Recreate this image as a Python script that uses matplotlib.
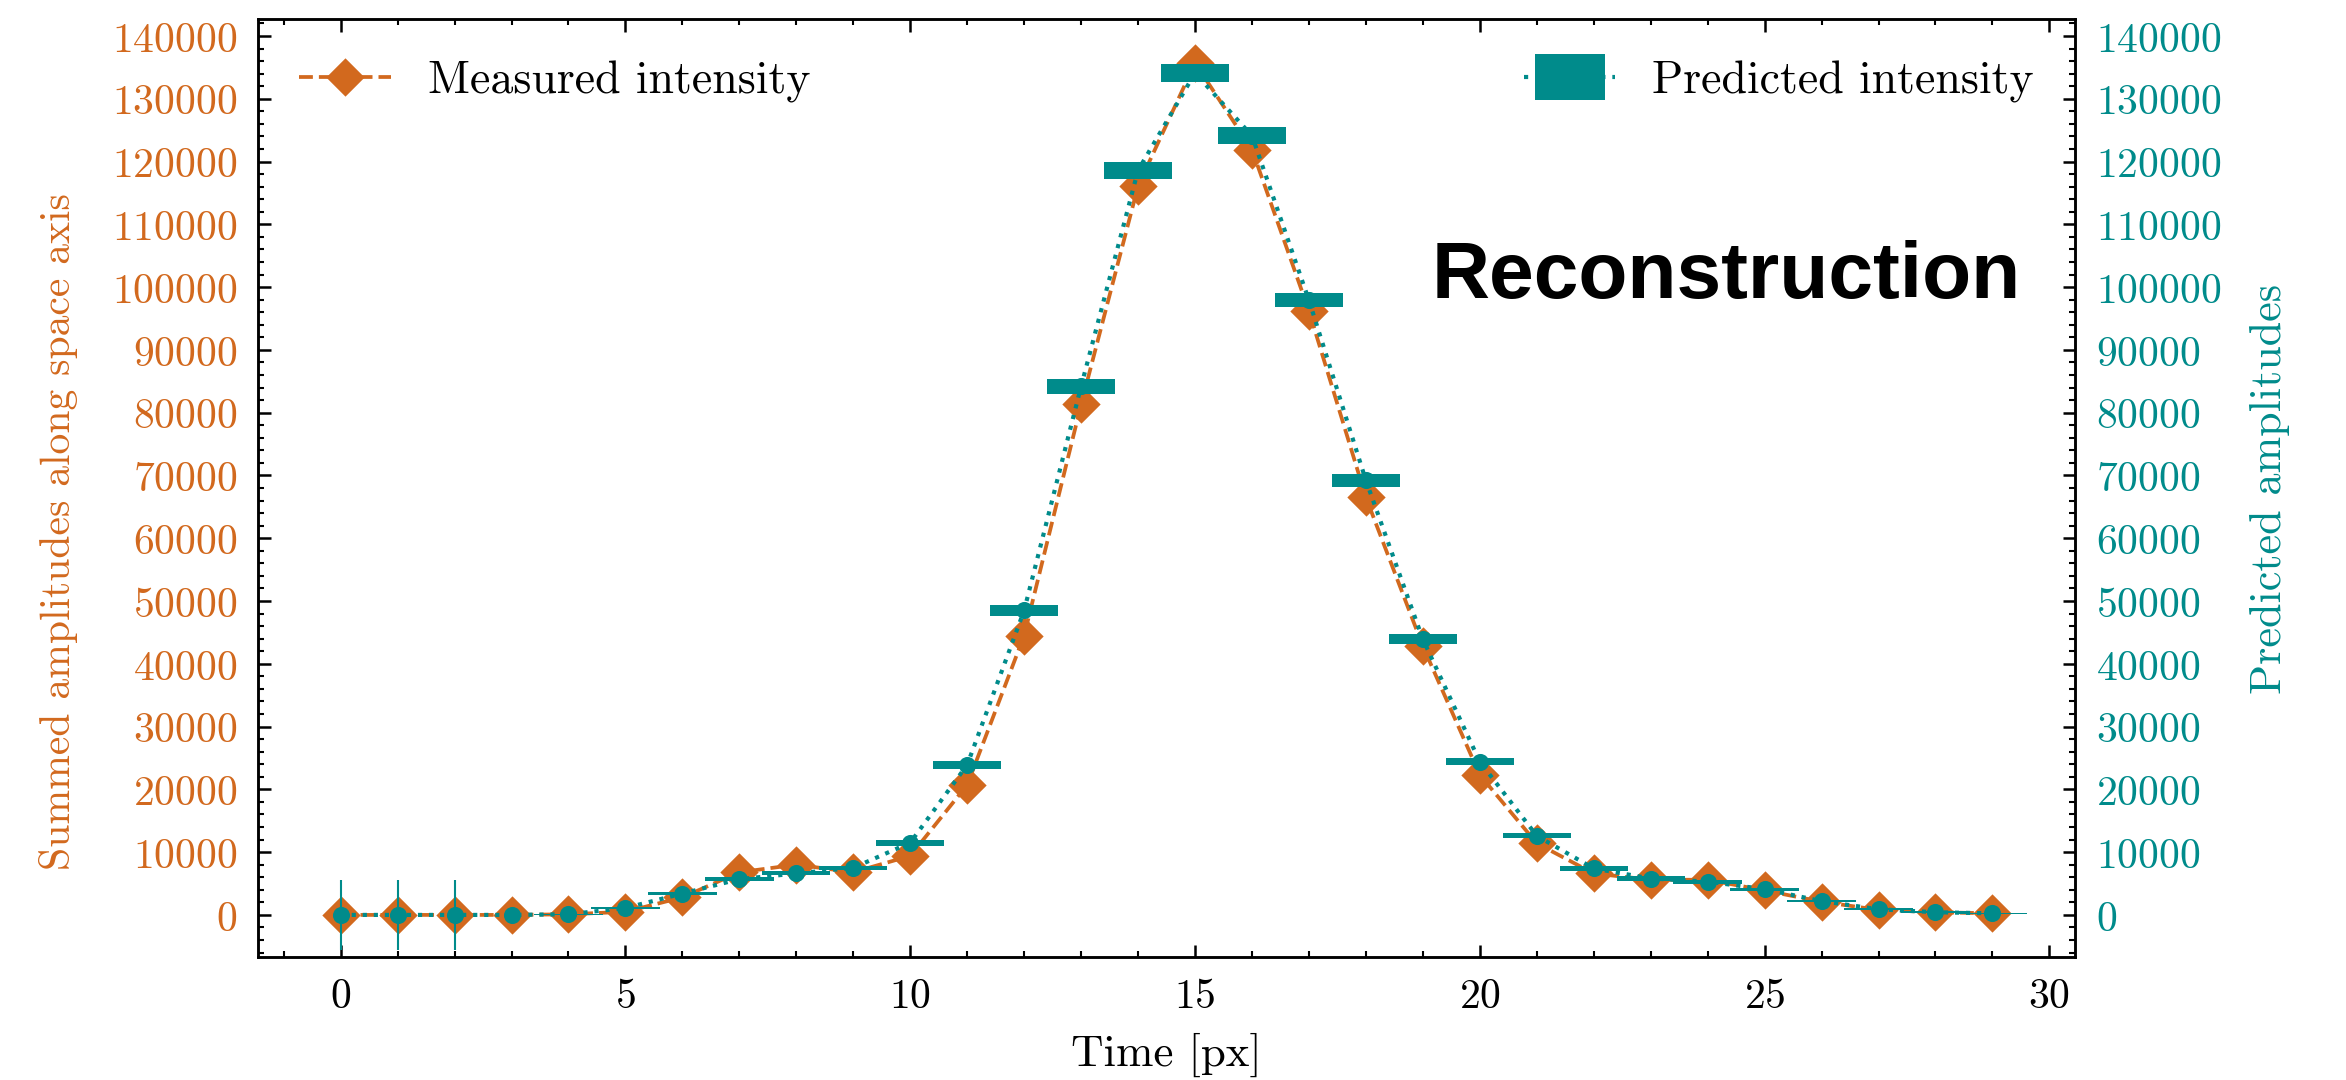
import matplotlib
matplotlib.use("Agg")
import matplotlib.pyplot as plt
from matplotlib.lines import Line2D
from matplotlib.ticker import MultipleLocator

# 数据
time_px = list(range(30))
measured = [0, 0, 0, 0, 100, 500, 2800, 6800, 8000, 6800, 9400, 20700, 44500, 81300,
            116100, 135700, 121900, 96200, 66500, 42800, 22300, 11400, 6600, 5600, 5600,
            3900, 2100, 800, 430, 250]
predicted = [0, 0, 0, 0, 100, 1100, 3400, 5700, 6600, 7500, 11500, 23900, 48500, 84200,
             118600, 134100, 124100, 97900, 69200, 43900, 24400, 12600, 7400, 5800, 5300,
             4100, 2200, 900, 430, 250]
# 预测值的方框半高
box_half = [0, 0, 0, 0, 80, 200, 260, 300, 320, 340, 480, 660, 930, 1190,
            1380, 1430, 1330, 1140, 980, 800, 600, 420, 370, 340, 320,
            240, 180, 160, 120, 80]
# 细竖线误差
thin_err = [5600, 5600, 5600] + [0] * 27

orange = "chocolate"
teal = "darkcyan"

plt.rcParams.update({
    "font.family": "serif",
    "font.serif": ["cmr10"],
    "mathtext.fontset": "cm",
    "axes.formatter.use_mathtext": True,
    "font.size": 10,
    "axes.linewidth": 0.6,
    "xtick.direction": "in",
    "ytick.direction": "in",
    "xtick.major.size": 3,
    "xtick.minor.size": 1.5,
    "ytick.major.size": 3,
    "ytick.minor.size": 1.5,
    "xtick.major.width": 0.6,
    "ytick.major.width": 0.6,
    "xtick.minor.width": 0.5,
    "ytick.minor.width": 0.5,
    "xtick.major.pad": 5,
    "ytick.major.pad": 5,
})

fig = plt.figure(figsize=(7.82, 3.6033), dpi=300)
ax = fig.add_axes([0.110, 0.1138, 0.7745, 0.8677])

diamond = [(0, 1), (1, 0), (0, -1), (-1, 0)]
ax.plot(time_px, measured, ls="--", lw=0.9, color=orange, marker=diamond,
        ms=9.2, mew=0, label="Measured intensity")
ax.set_xlim(-1.45, 30.45)
ax.set_ylim(-6700, 142700)
ax.set_xlabel("Time [px]", fontsize=10.8)
ax.set_ylabel("Summed amplitudes along space axis", color=orange)
ax.yaxis.set_label_coords(-0.099, 0.455)
ax.tick_params(axis="y", labelcolor=orange, right=False)
ax.tick_params(axis="x", top=True, which="both")
ax.xaxis.set_major_locator(MultipleLocator(5))
ax.xaxis.set_minor_locator(MultipleLocator(1))
ax.yaxis.set_major_locator(MultipleLocator(10000))
ax.yaxis.set_minor_locator(MultipleLocator(2000))
ax.tick_params(axis="y", which="minor", right=False)
ax.legend(loc="upper left", frameon=False, handlelength=2.0, fontsize=11)

ax2 = ax.twinx()
ax2.set_ylim(ax.get_ylim())
ax2.bar(time_px, [2 * h for h in box_half],
        bottom=[p - h for p, h in zip(predicted, box_half)],
        width=1.2, color=teal, lw=0, zorder=2)
ax2.errorbar(time_px, predicted, yerr=thin_err, fmt="none", ecolor=teal,
             elinewidth=0.5, zorder=2)
ax2.plot(time_px, predicted, ls=":", lw=1.0, color=teal, marker="o", ms=4.1,
         mew=0, zorder=3)
ax2.set_ylabel("Predicted amplitudes", color=teal, fontsize=10.6, labelpad=7)
ax2.tick_params(axis="y", labelcolor=teal, which="both")
ax2.yaxis.set_major_locator(MultipleLocator(10000))
ax2.yaxis.set_minor_locator(MultipleLocator(2000))

rect = [(-0.5, -0.33), (0.5, -0.33), (0.5, 0.33), (-0.5, 0.33)]
h = Line2D([], [], ls=":", lw=1.0, color=teal, marker=rect, ms=16.8, mew=0)
ax2.legend([h], ["Predicted intensity"], loc="upper right", frameon=False,
           handlelength=2.0, fontsize=11)

ax2.text(0.97, 0.725, "Reconstruction", transform=ax2.transAxes, ha="right",
         va="center", fontsize=19.3, fontweight="bold", family="Liberation Sans")

fig.savefig("out.png", dpi=300)
